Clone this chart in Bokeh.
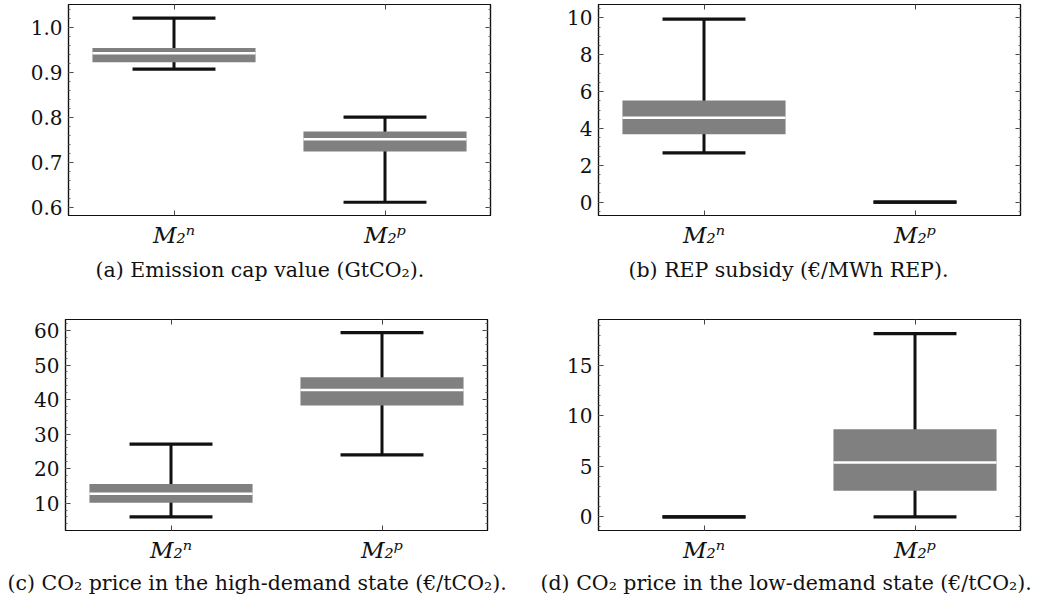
import numpy as np
from bokeh.plotting import figure
from bokeh.models import Range1d, FixedTicker, LinearAxis, Title, CustomJSTickFormatter, ColumnDataSource
from bokeh.layouts import column, row
from bokeh.embed import file_html
from bokeh.resources import INLINE

# ---------------- data ----------------
cats = ["M\u2082\u207f", "M\u2082\u1d56"]

# panel (a) Emission cap value
a_low = [0.907, 0.611]
a_q1 = [0.922, 0.724]
a_med = [0.942, 0.751]
a_q3 = [0.954, 0.768]
a_high = [1.020, 0.800]
a_ticks = [0.6, 0.7, 0.8, 0.9, 1.0]
a_labels = ["0.6", "0.7", "0.8", "0.9", "1.0"]

# panel (b) REP subsidy
b_low = [2.68, 0.0]
b_q1 = [3.69, 0.0]
b_med = [4.58, 0.0]
b_q3 = [5.51, 0.0]
b_high = [9.93, 0.0]
b_ticks = [0, 2, 4, 6, 8, 10]
b_labels = ["0", "2", "4", "6", "8", "10"]

# panel (c) CO2 price high-demand
c_low = [6.0, 24.0]
c_q1 = [10.1, 38.3]
c_med = [12.7, 42.8]
c_q3 = [15.5, 46.5]
c_high = [27.1, 59.4]
c_ticks = [10, 20, 30, 40, 50, 60]
c_labels = ["10", "20", "30", "40", "50", "60"]

# panel (d) CO2 price low-demand
d_low = [0.0, 0.0]
d_q1 = [0.0, 2.58]
d_med = [0.0, 5.39]
d_q3 = [0.0, 8.69]
d_high = [0.0, 18.17]
d_ticks = [0, 5, 10, 15]
d_labels = ["0", "5", "10", "15"]

captions = [
    "(a) Emission cap value (GtCO\u2082).",
    "(b) REP subsidy (\u20ac/MWh REP).",
    "(c) CO\u2082 price in the high-demand state (\u20ac/tCO\u2082).",
    "(d) CO\u2082 price in the low-demand state (\u20ac/tCO\u2082).",
]

# ---------------- style ----------------
SERIF = "DejaVu Serif"
BOX_W = 0.773
CAP_W = 0.393
GRAY = "#808080"
INK = "#111111"


def panel(low, q1, med, q3, high, yr, ticks, labels, minor_step, caption,
          bl, br, bt, bb, cap_standoff, cap_offset):
    xs = list(range(1, len(cats) + 1))
    p = figure(frame_width=422, frame_height=211, output_backend="svg",
               toolbar_location=None, x_range=Range1d(0.5, 2.5),
               y_range=Range1d(*yr), min_border_left=bl, min_border_right=br,
               min_border_top=bt, min_border_bottom=bb)
    p.background_fill_color = "white"
    p.border_fill_color = "white"
    p.outline_line_color = INK
    p.outline_line_width = 1.2
    p.grid.visible = False

    minor = list(np.arange(ticks[0] - 10 * minor_step, ticks[-1] + 10 * minor_step, minor_step))
    yticker = FixedTicker(ticks=ticks, minor_ticks=minor)
    xticker = FixedTicker(ticks=xs, minor_ticks=[])
    blank = CustomJSTickFormatter(code="return ''")

    bottom = p.below[0]
    left = p.left[0]
    left.ticker = yticker
    left.major_label_overrides = {t: l for t, l in zip(ticks, labels)}
    bottom.ticker = xticker
    bottom.major_label_overrides = {x: c for x, c in zip(xs, cats)}
    right = LinearAxis(ticker=yticker, formatter=blank)
    top = LinearAxis(ticker=xticker, formatter=blank)
    p.add_layout(right, "right")
    p.add_layout(top, "above")
    for ax in (left, bottom, right, top):
        ax.major_tick_in = 5
        ax.major_tick_out = 0
        ax.minor_tick_in = 2
        ax.minor_tick_out = 0
        ax.axis_line_color = INK
        ax.axis_line_width = 1.2
        ax.major_tick_line_color = "#444444"
        ax.minor_tick_line_color = "#666666"
        ax.major_label_text_font = SERIF
        ax.major_label_text_font_size = "20px"
        ax.major_label_text_color = "#111111"
        ax.major_label_standoff = 6
    right.major_label_standoff = 0
    top.major_label_standoff = 0
    bottom.major_label_text_font_style = "italic"
    bottom.major_label_text_font_size = "23px"
    bottom.major_label_standoff = 6

    src = ColumnDataSource(dict(
        x=xs, low=low, high=high,
        c0=[x - CAP_W / 2 for x in xs], c1=[x + CAP_W / 2 for x in xs]))
    boxed = [i for i in range(len(xs)) if q3[i] > q1[i]]
    bsrc = ColumnDataSource(dict(
        x=[xs[i] for i in boxed], q1=[q1[i] for i in boxed], q3=[q3[i] for i in boxed],
        med=[med[i] for i in boxed],
        m0=[xs[i] - BOX_W / 2 for i in boxed], m1=[xs[i] + BOX_W / 2 for i in boxed]))

    p.segment(x0="x", y0="low", x1="x", y1="high", source=src, line_color=INK, line_width=3)
    p.vbar(x="x", width=BOX_W, bottom="q1", top="q3", source=bsrc, fill_color=GRAY, line_color=None)
    p.segment(x0="m0", y0="med", x1="m1", y1="med", source=bsrc, line_color="white", line_width=2.5)
    p.segment(x0="c0", y0="low", x1="c1", y1="low", source=src, line_color=INK, line_width=3.2)
    p.segment(x0="c0", y0="high", x1="c1", y1="high", source=src, line_color=INK, line_width=3.2)

    t = Title(text=caption, align="left", offset=cap_offset, standoff=cap_standoff,
              text_font=SERIF, text_font_size="20.5px", text_font_style="normal",
              text_color="#111111")
    p.add_layout(t, "below")
    return p


pa = panel(a_low, a_q1, a_med, a_q3, a_high, (0.5816, 1.0504), a_ticks, a_labels, 0.02,
           captions[0], 68, 30, 4, 100, 10, 27)
pb = panel(b_low, b_q1, b_med, b_q3, b_high, (-0.72, 10.72), b_ticks, b_labels, 0.5,
           captions[1], 78, 22, 4, 100, 10, 30)
pc = panel(c_low, c_q1, c_med, c_q3, c_high, (2.06, 63.2), c_ticks, c_labels, 2,
           captions[2], 65, 33, 4, 71, 6, -58)
pd = panel(d_low, d_q1, d_med, d_q3, d_high, (-1.35, 19.56), d_ticks, d_labels, 1,
           captions[3], 78, 22, 4, 71, 6, -58)

layout = column(row(pa, pb), row(pc, pd))
open("out.html", "w").write(file_html(layout, INLINE))
